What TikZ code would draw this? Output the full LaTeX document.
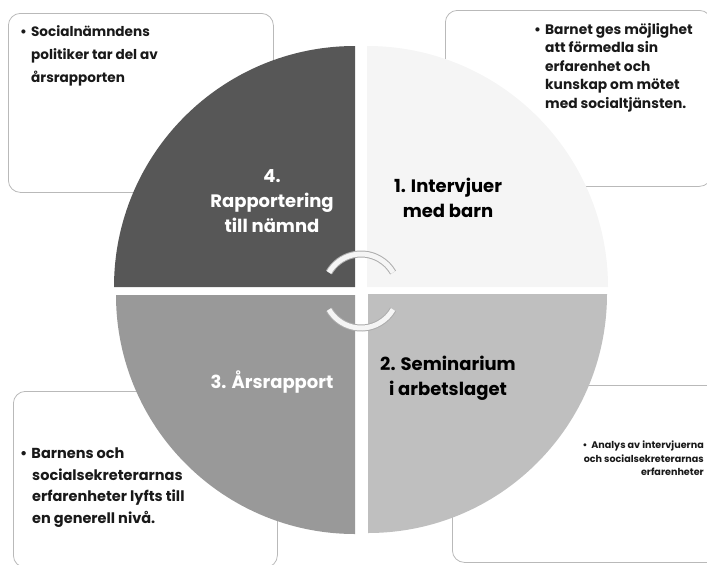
\documentclass[tikz,border=0pt]{standalone}
\usepackage{fontspec}
\setmainfont{Poppins}
\usetikzlibrary{positioning}

\tikzset{
	infobox/.style={draw=gray!55, line width=0.8pt, rounded corners=12pt, anchor=north west, inner sep=0pt},
	boxtext/.style={anchor=north west, align=left, inner sep=0pt, text=black!90},
	qlabel/.style={align=center, inner sep=0pt, font=\fontsize{18}{25}\selectfont\bfseries},
	cyclearc/.style={draw=gray!65, double=gray!8, double distance=5pt, line width=1pt}
}

\begin{document}
\begin{tikzpicture}[x=1pt,y=-1pt]
		\useasboundingbox (0,0) rectangle (707,565);
		\clip (0,0) rectangle (707,565);
		
		% info boxes behind the wheel
		\node[infobox, minimum width=265pt, minimum height=179pt] (boxrap) at (8,13) {};
		\node[infobox, minimum width=266pt, minimum height=176pt] (boxint) at (445,10) {};
		\node[infobox, minimum width=264pt, minimum height=176pt] (boxars) at (13,391) {};
		\node[infobox, minimum width=270pt, minimum height=177pt] (boxsem) at (452,385) {};
		
		% the four quadrants
		\fill[gray!8!white] (367,287) -- ++(0,-241) arc[start angle=270, end angle=360, radius=241] -- cycle;
		\fill[black!25] (368,294) -- ++(239,0) arc[start angle=0, end angle=90, radius=239] -- cycle;
		\fill[black!40] (355,295) -- ++(0,239) arc[start angle=90, end angle=180, radius=239] -- cycle;
		\fill[black!66] (355,287) -- ++(-241,0) arc[start angle=180, end angle=270, radius=241] -- cycle;
		
		% cycle arcs in the middle
		\coordinate (mid) at (361,291);
		\draw[cyclearc] (mid) ++(210:37) arc[start angle=210, end angle=330, radius=37];
		\draw[cyclearc] (mid) ++(150:37) arc[start angle=150, end angle=30, radius=37];
		
		% quadrant labels
		\node[qlabel, text=white] (q4) at (272,201) {4.\\Rapportering\\till nämnd};
		\node[qlabel, text=black] (q1) at (448,198) {1. Intervjuer\\med barn};
		\node[qlabel, text=white] (q3) at (272,382) {3. Årsrapport};
		\node[qlabel, text=black] (q2) at (448,378) {2. Seminarium\\i arbetslaget};
		
		% box texts
		\node[boxtext, font=\fontsize{13.6}{23}\selectfont\bfseries, below right=12pt and 12pt of boxrap.north west] (txtrap) {•\hspace{4pt}Socialnämndens\\\hspace{11pt}politiker tar del av\\\hspace{11pt}årsrapporten};
		\node[boxtext, font=\fontsize{13.8}{18.5}\selectfont\bfseries, below right=13pt and 89pt of boxint.north west] (txtint) {•\hspace{4pt}Barnet ges möjlighet\\\hspace{11pt}att förmedla sin\\\hspace{11pt}erfarenhet och\\\hspace{11pt}kunskap om mötet\\\hspace{11pt}med socialtjänsten.};
		\node[boxtext, font=\fontsize{14.5}{21.5}\selectfont\bfseries, below right=57pt and 7pt of boxars.north west] (txtars) {•\hspace{4pt}Barnens och\\\hspace{12pt}socialsekreterarnas\\\hspace{12pt}erfarenheter lyfts till\\\hspace{12pt}en generell nivå.};
		\node[boxtext, anchor=north east, align=right, font=\fontsize{9.6}{13.5}\selectfont\bfseries] (txtsem) at (704,441) {•\hspace{4pt}Analys av intervjuerna\\och socialsekreterarnas\\erfarenheter};
	\end{tikzpicture}
\end{document}
